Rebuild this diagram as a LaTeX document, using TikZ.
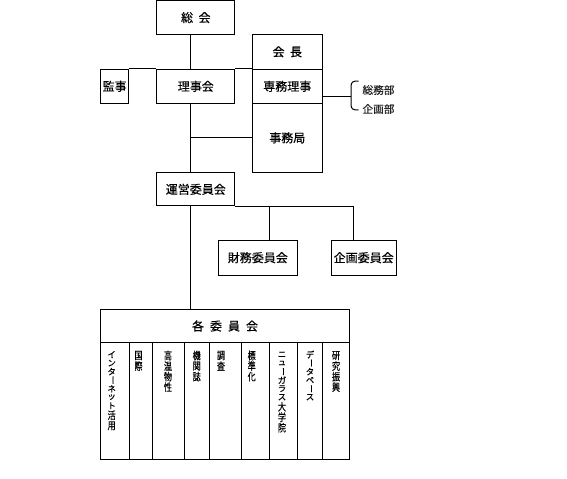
\documentclass[tikz,border=0pt]{standalone}
\usepackage{fontspec}
\usepackage{graphicx}
\newfontfamily\jp{Noto Sans CJK JP}[FakeBold=0.4]
\newcommand\vkj[1]{\vbox to 7.9pt{\vss\hbox to 9pt{\hss\scalebox{0.78}[1]{#1}\hss}\vss}}
\newcommand\vkn[1]{\vbox to 6.4pt{\vss\hbox to 9pt{\hss\scalebox{0.8}[0.82]{#1}\hss}\vss}}
\newcommand\vbarmark{\rotatebox[origin=c]{-90}{ー}}
\tikzset{
  ln/.style={line width=0.75pt},
  bx/.style={draw, line width=0.75pt, inner sep=0pt, font=\jp\fontsize{9}{10}\selectfont},
  vt/.style={inner sep=0pt, anchor=north, font=\jp\fontsize{7.8}{8}\selectfont},
  lbl/.style={inner sep=0pt, font=\jp\fontsize{8}{9}\selectfont, text=black!85}
}
\begin{document}
\begin{tikzpicture}[x=0.75pt,y=-0.75pt]
\useasboundingbox (0,0) rectangle (567,478);
% top boxes
\node[bx, minimum width={78.3*0.75pt}, minimum height={33.3*0.75pt}] (sokai) at (195.8,17.6) {総\hspace{0.45em}会};
\node[bx, minimum width={70*0.75pt}, minimum height={35*0.75pt}] (kaicho) at (287.3,51.8) {会\hspace{0.45em}長};
\node[bx, minimum width={70*0.75pt}, minimum height={34*0.75pt}] (senmu) at (287.3,86.3) {専務理事};
\node[bx, minimum width={70*0.75pt}, minimum height={69*0.75pt}] (jimu) at (287.3,137.8) {事務局};
\node[bx, minimum width={28*0.75pt}, minimum height={34*0.75pt}] (kanji) at (114.7,86.3) {監事};
\node[bx, minimum width={78.3*0.75pt}, minimum height={34*0.75pt}] (riji) at (195.8,86.3) {理事会};
\node[bx, minimum width={78.3*0.75pt}, minimum height={33.3*0.75pt}] (unei) at (195.8,189.3) {運営委員会};
\node[bx, minimum width={79*0.75pt}, minimum height={35.3*0.75pt}] (zaimu) at (257.8,257.7) {財務委員会};
\node[bx, minimum width={64.7*0.75pt}, minimum height={35.3*0.75pt}] (kikaku) at (363.7,257.7) {企画委員会};
% committees table
\node[bx, minimum width={248.6*0.75pt}, minimum height={33.4*0.75pt}] (kaku) at (225,326) {各\hspace{0.5em}委\hspace{0.5em}員\hspace{0.5em}会};
\node[bx, minimum width={28.3*0.75pt}, minimum height={116.6*0.75pt}] (c1) at (114.85,401) {};
\node[bx, minimum width={23.3*0.75pt}, minimum height={116.6*0.75pt}] (c2) at (140.65,401) {};
\node[bx, minimum width={32.4*0.75pt}, minimum height={116.6*0.75pt}] (c3) at (168.5,401) {};
\node[bx, minimum width={24.6*0.75pt}, minimum height={116.6*0.75pt}] (c4) at (197,401) {};
\node[bx, minimum width={32.4*0.75pt}, minimum height={116.6*0.75pt}] (c5) at (225.5,401) {};
\node[bx, minimum width={27.3*0.75pt}, minimum height={116.6*0.75pt}] (c6) at (255.35,401) {};
\node[bx, minimum width={28.3*0.75pt}, minimum height={116.6*0.75pt}] (c7) at (283.15,401) {};
\node[bx, minimum width={25*0.75pt}, minimum height={116.6*0.75pt}] (c8) at (309.8,401) {};
\node[bx, minimum width={27*0.75pt}, minimum height={116.6*0.75pt}] (c9) at (335.8,401) {};
\node[vt] (t1) at (111.7,350) {\vbox{\offinterlineskip\vkn{イ}\vkn{ン}\vkn{タ}\vkn{\vbarmark}\vkn{ネ}\vkn{ッ}\vkn{ト}\vkj{活}\vkj{用}}};
\node[vt] (t2) at (138.5,350) {\vbox{\offinterlineskip\vkj{国}\vkj{際}}};
\node[vt] (t3) at (168,350) {\vbox{\offinterlineskip\vkj{高}\vkj{温}\vkj{物}\vkj{性}}};
\node[vt] (t4) at (196.7,350) {\vbox{\offinterlineskip\vkj{機}\vkj{関}\vkj{誌}}};
\node[vt] (t5) at (221,350) {\vbox{\offinterlineskip\vkj{調}\vkj{査}}};
\node[vt] (t6) at (251.7,350) {\vbox{\offinterlineskip\vkj{標}\vkj{準}\vkj{化}}};
\node[vt] (t7) at (282,350) {\vbox{\offinterlineskip\vkn{ニ}\vkn{ュ}\vkn{\vbarmark}\vkn{ガ}\vkn{ラ}\vkn{ス}\vkj{大}\vkj{学}\vkj{院}}};
\node[vt] (t8) at (310,350) {\vbox{\offinterlineskip\vkn{デ}\vkn{\vbarmark}\vkn{タ}\vkn{ベ}\vkn{\vbarmark}\vkn{ス}}};
\node[vt] (t9) at (336,350) {\vbox{\offinterlineskip\vkj{研}\vkj{究}\vkj{振}\vkj{興}}};
% side labels
\node[lbl] (somu) at (378.5,90) {総務部};
\node[lbl] (kikakubu) at (378.5,109) {企画部};
% connectors
\coordinate (v0) at (190.3,0);
\draw[ln] (sokai.south -| v0) -- (riji.north -| v0);
\draw[ln] (kanji.north east) -- (riji.north west);
\draw[ln] (riji.north east) -- (senmu.north west);
\draw[ln] (riji.south -| v0) -- (unei.north -| v0);
\coordinate (bj) at (190.3,137.3);
\draw[ln] (bj) -- (jimu.west |- bj);
\coordinate (ua) at (269.3,0);
\coordinate (ub) at (353.3,0);
\draw[ln] (unei.south east) -- (unei.south east -| ub);
\draw[ln] (unei.south -| ua) -- (zaimu.north -| ua);
\draw[ln] (unei.south -| ub) -- (kikaku.north -| ub);
\draw[ln] (unei.south -| v0) -- (kaku.north -| v0);
% bracket
\coordinate (br) at (351,96);
\draw[ln] (senmu.east |- br) -- (br);
\draw[ln] (358.5,81) .. controls (352.5,81) and (351,82) .. (351,87) -- (351,104) .. controls (351,109) and (352.5,110) .. (358.5,110);
\end{tikzpicture}
\end{document}
